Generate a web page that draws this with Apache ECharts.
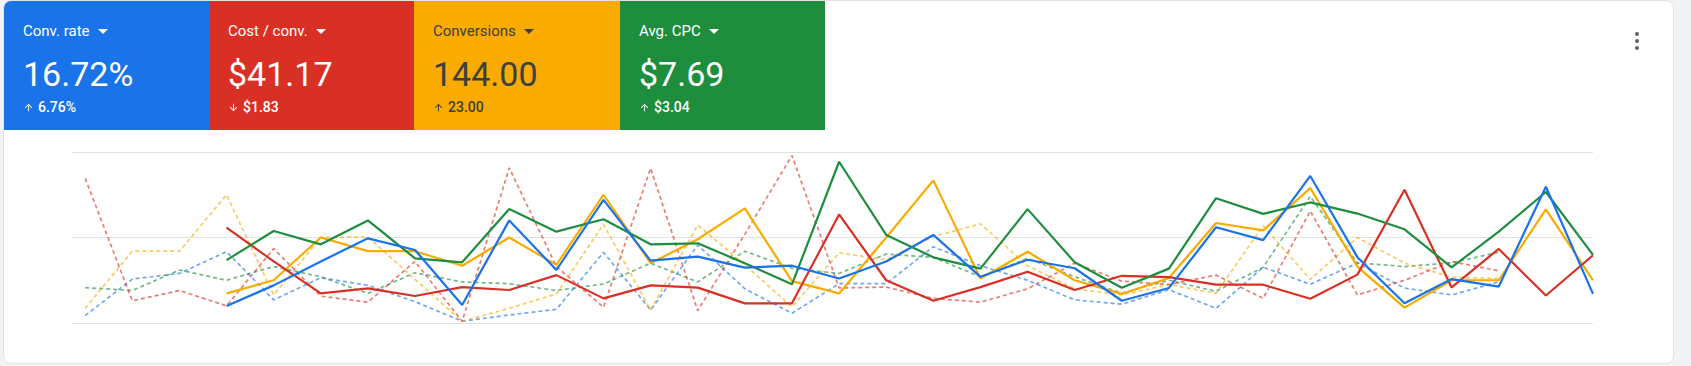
<!DOCTYPE html>
<html>
<head>
<meta charset="utf-8">
<script src="https://cdn.jsdelivr.net/npm/echarts@6/dist/echarts.min.js"></script>
<style>
html,body{margin:0;padding:0;width:1691px;height:366px;overflow:hidden;background:#f1f3f4;font-family:Roboto,"Noto Sans",Arial,sans-serif;}
#card{position:absolute;left:3px;top:0;width:1671px;height:364px;background:#fff;border:1px solid #e3e3e3;border-radius:8px;box-sizing:border-box;overflow:hidden;}
#chart{position:absolute;left:0;top:0;width:1691px;height:366px;z-index:1;}
.tile{position:absolute;top:0;height:129px;color:#fff;}
.title{position:absolute;left:19px;top:21px;font-size:15px;line-height:18px;white-space:nowrap;}
.caret{display:inline-block;width:0;height:0;border-left:5px solid transparent;border-right:5px solid transparent;border-top:5px solid currentColor;margin-left:8px;vertical-align:middle;position:relative;top:-1px;}
.value{position:absolute;left:19px;top:53px;font-size:34px;line-height:40px;white-space:nowrap;}
.delta{position:absolute;left:19px;top:98px;font-size:14px;font-weight:500;line-height:16px;white-space:nowrap;}
.delta svg{width:11px;height:11px;vertical-align:-1px;margin-right:4px;fill:currentColor;}
#dots{position:absolute;left:1634px;top:32px;width:6px;z-index:3;}
#dots div{width:4px;height:4px;border-radius:50%;background:#5f6368;margin:0 0 3px 1px;}
</style>
</head>
<body>
<div id="card">
  <div class="tile" style="left:0;width:205px;background:#1a73e8;">
    <div class="title">Conv. rate<span class="caret"></span></div>
    <div class="value">16.72%</div>
    <div class="delta"><svg viewBox="0 0 24 24"><path d="M4 12l1.41 1.41L11 7.83V20h2V7.83l5.58 5.59L20 12l-8-8-8 8z"/></svg>6.76%</div>
  </div>
  <div class="tile" style="left:205px;width:205px;background:#d93025;">
    <div class="title">Cost / conv.<span class="caret"></span></div>
    <div class="value">$41.17</div>
    <div class="delta"><svg viewBox="0 0 24 24"><path d="M20 12l-1.41-1.41L13 16.17V4h-2v12.17l-5.58-5.59L4 12l8 8 8-8z"/></svg>$1.83</div>
  </div>
  <div class="tile" style="left:410px;width:206px;background:#f9ab00;color:#3c4043;">
    <div class="title">Conversions<span class="caret"></span></div>
    <div class="value">144.00</div>
    <div class="delta"><svg viewBox="0 0 24 24"><path d="M4 12l1.41 1.41L11 7.83V20h2V7.83l5.58 5.59L20 12l-8-8-8 8z"/></svg>23.00</div>
  </div>
  <div class="tile" style="left:616px;width:205px;background:#1e8e3e;">
    <div class="title">Avg. CPC<span class="caret"></span></div>
    <div class="value">$7.69</div>
    <div class="delta"><svg viewBox="0 0 24 24"><path d="M4 12l1.41 1.41L11 7.83V20h2V7.83l5.58 5.59L20 12l-8-8-8 8z"/></svg>$3.04</div>
  </div>
</div>
<div id="dots"><div></div><div></div><div></div></div>
<div id="chart"></div>
<script>
// Normalised values (0-100 of each metric's own scale), one per day index
const convRate = [null,null,null,10,22,36,49.5,42.7,10.5,60,31,72,36.5,38.8,32.4,33.5,26,36,51.5,27,37,32,13,20.5,56,48.5,86,38.5,11.5,25.7,21.3,79.7,17];
const costConv = [null,null,null,55.8,36,17.3,20.2,15.8,21,19.3,28,14.4,22,20.7,11.5,11.5,63.5,25,13,21,30,19.3,27.6,26.8,22.4,22.4,14.2,28.3,77.9,20.8,43.3,16.1,39.6];
const conversions = [null,null,null,17.3,25,50,42,42,33.5,50,34,75,35,49,67,24.5,17.3,50,83.4,26,41.7,25,17,26.3,58.5,54.2,78.9,33,9,25,25,66.5,25];
const avgCpc = [null,null,null,36.8,53.8,46,60,37.8,35.5,66.7,53.4,60.7,46,46.6,35,22.6,94.3,51.5,38.4,31.8,66.6,35.5,20.6,31.8,73,63.8,70.5,64,54.8,32.5,53.4,76.6,39.8];
// Previous period (dashed)
const convRatePrev = [4.3,25.7,29,41.7,13.5,26.5,22,12.5,1,4.7,8,41.3,7.6,45.6,20,5.7,23,23,44.6,33.5,25,13.5,11,19.5,8.6,32.6,22.7,35,20.4,16.4,24];
const costConvPrev = [84.6,13,19,10,43.5,15.7,12.2,36,1,90.7,33,9.2,90.5,7.2,52,97.9,20.5,21,14.4,12.2,20,35,24.5,22.5,28,14.4,65.5,16.4,25,35.9,30.5];
const conversionsPrev = [8.6,42,42,75,16.4,50,50.3,25.5,1,8.6,17,57.7,7.6,57.3,34,9.5,41,37,50.5,58,33.5,20,16.4,22.5,17.3,56.8,25.5,50,35,26.8,26];
const avgCpcPrev = [20.7,19,31,25,33,27,17.3,29.4,24,23,19,22.8,35,24,42,32,29,40.3,38.4,27,37.8,27,17.5,25,18.5,32.6,74,35.2,33,35.2,41.4];
const yTicks = [0, 50, 100];

const COLORS = {blue:'#1a73e8', red:'#d93025', yellow:'#f9ab00', green:'#1e8e3e'};
function pts(arr){ return arr.map((v,i)=> v==null ? null : [i,v]).filter(Boolean); }
function solid(name, arr, color){
  return {name, type:'line', data:pts(arr), symbol:'none', smooth:false, z:3,
    lineStyle:{color, width:2.2}, itemStyle:{color}, animation:false};
}
function dashed(name, arr, color){
  return {name, type:'line', data:pts(arr), symbol:'none', smooth:false, z:2,
    lineStyle:{color, width:1.7, type:[4,3], opacity:0.62}, itemStyle:{color}, animation:false};
}
const chart = echarts.init(document.getElementById('chart'), null, {renderer:'canvas'});
chart.setOption({
  backgroundColor:'transparent',
  animation:false,
  grid:{left:72, right:98, top:152, bottom:43, containLabel:false},
  xAxis:{type:'value', min:-0.28, max:32, show:true,
    axisLine:{show:false}, axisTick:{show:false}, axisLabel:{show:false}, splitLine:{show:false}},
  yAxis:{type:'value', min:yTicks[0], max:yTicks[yTicks.length-1], interval:50,
    axisLine:{show:false}, axisTick:{show:false}, axisLabel:{show:false},
    splitLine:{show:true, lineStyle:{color:'#e2e2e2', width:1}}},
  series:[
    dashed('Avg. CPC (prev)', avgCpcPrev, COLORS.green),
    dashed('Conv. rate (prev)', convRatePrev, COLORS.blue),
    dashed('Conversions (prev)', conversionsPrev, COLORS.yellow),
    dashed('Cost / conv. (prev)', costConvPrev, COLORS.red),
    solid('Conversions', conversions, COLORS.yellow),
    solid('Cost / conv.', costConv, COLORS.red),
    solid('Avg. CPC', avgCpc, COLORS.green),
    solid('Conv. rate', convRate, COLORS.blue)
  ]
});
</script>
</body>
</html>
